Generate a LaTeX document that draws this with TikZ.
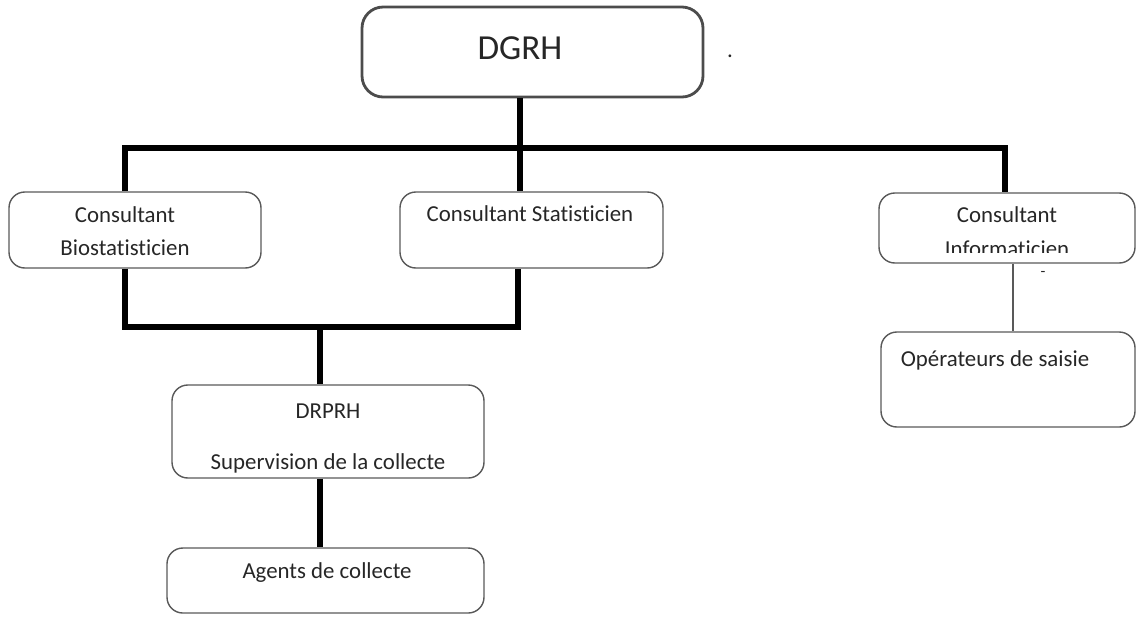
\documentclass[tikz,border=0pt]{standalone}
\usepackage{fontspec}
\setmainfont[Ligatures=NoCommon]{Carlito}
\usetikzlibrary{fit}

\tikzset{
  boite/.style={draw=black!65, line width=0.8pt, rounded corners=9pt, inner sep=0pt},
  lien/.style={line width=3.6pt},
  fil/.style={draw=black!65, line width=0.8pt},
  txt/.style={font=\fontsize{13}{15}\selectfont, inner sep=0pt, text=black!85}
}

\begin{document}
\begin{tikzpicture}[x=0.02cm, y=-0.02cm]
\useasboundingbox (0,0) rectangle (1138,616);
% boites
\node[boite, line width=1.6pt, draw=black!70, rounded corners=12pt, fit={(362,7) (703,97)}] (dgrh) {};
\node[boite, fit={(9,192) (261,268)}] (bio) {};
\node[boite, fit={(400,192) (663,268)}] (stat) {};
\node[boite, fit={(879,193) (1135,263)}] (info) {};
\node[boite, fit={(881,332) (1135,427)}] (oper) {};
\node[boite, fit={(172,385) (484,478)}] (drprh) {};
\node[boite, fit={(167,548) (484,613)}] (agents) {};
% textes
\node[txt, font=\fontsize{20}{24}\selectfont] (t-dgrh) at (520,48) {DGRH};
\node[txt] (t-point) at (730,56) {.};
\node[txt] (t-bio1) at (125,215) {Consultant};
\node[txt] (t-bio2) at (125,248) {Biostatisticien};
\node[txt] (t-stat) at (530,214) {Consultant Statisticien};
\node[txt] (t-info1) at (1007,215) {Consultant};
\begin{scope}
\clip (879,230) rectangle (1135,252);
\node[txt, anchor=base] (t-info2) at (1007,256) {Informaticien};
\end{scope}
\node[txt, font=\fontsize{9}{10}\selectfont] (t-tiret) at (1043,274) {-};
\node[txt] (t-oper) at (995,360) {Opérateurs de saisie};
\node[txt] (t-drprh) at (328,411) {DRPRH};
\node[txt] (t-superv) at (328,463) {Supervision de la collecte};
\node[txt] (t-agents) at (327,573) {Agents de collecte};
% liens
\coordinate (haut) at (520,148);
\coordinate (xb) at (125,148);
\coordinate (xi) at (1005,148);
\draw[lien] (dgrh.south -| haut) -- (haut);
\draw[lien] (bio.north -| xb) -- (xb) -- (xi) -- (info.north -| xi);
\draw[lien] (haut) -- (stat.north -| haut);
\coordinate (bb) at (125,327);
\coordinate (bs) at (518,327);
\coordinate (bm) at (320,327);
\draw[lien] (bio.south -| bb) -- (bb) -- (bs) -- (stat.south -| bs);
\draw[lien] (bm) -- (drprh.north -| bm);
\draw[lien] (drprh.south -| bm) -- (agents.north -| bm);
\coordinate (xo) at (1013,300);
\draw[fil] (info.south -| xo) -- (oper.north -| xo);
\end{tikzpicture}
\end{document}
